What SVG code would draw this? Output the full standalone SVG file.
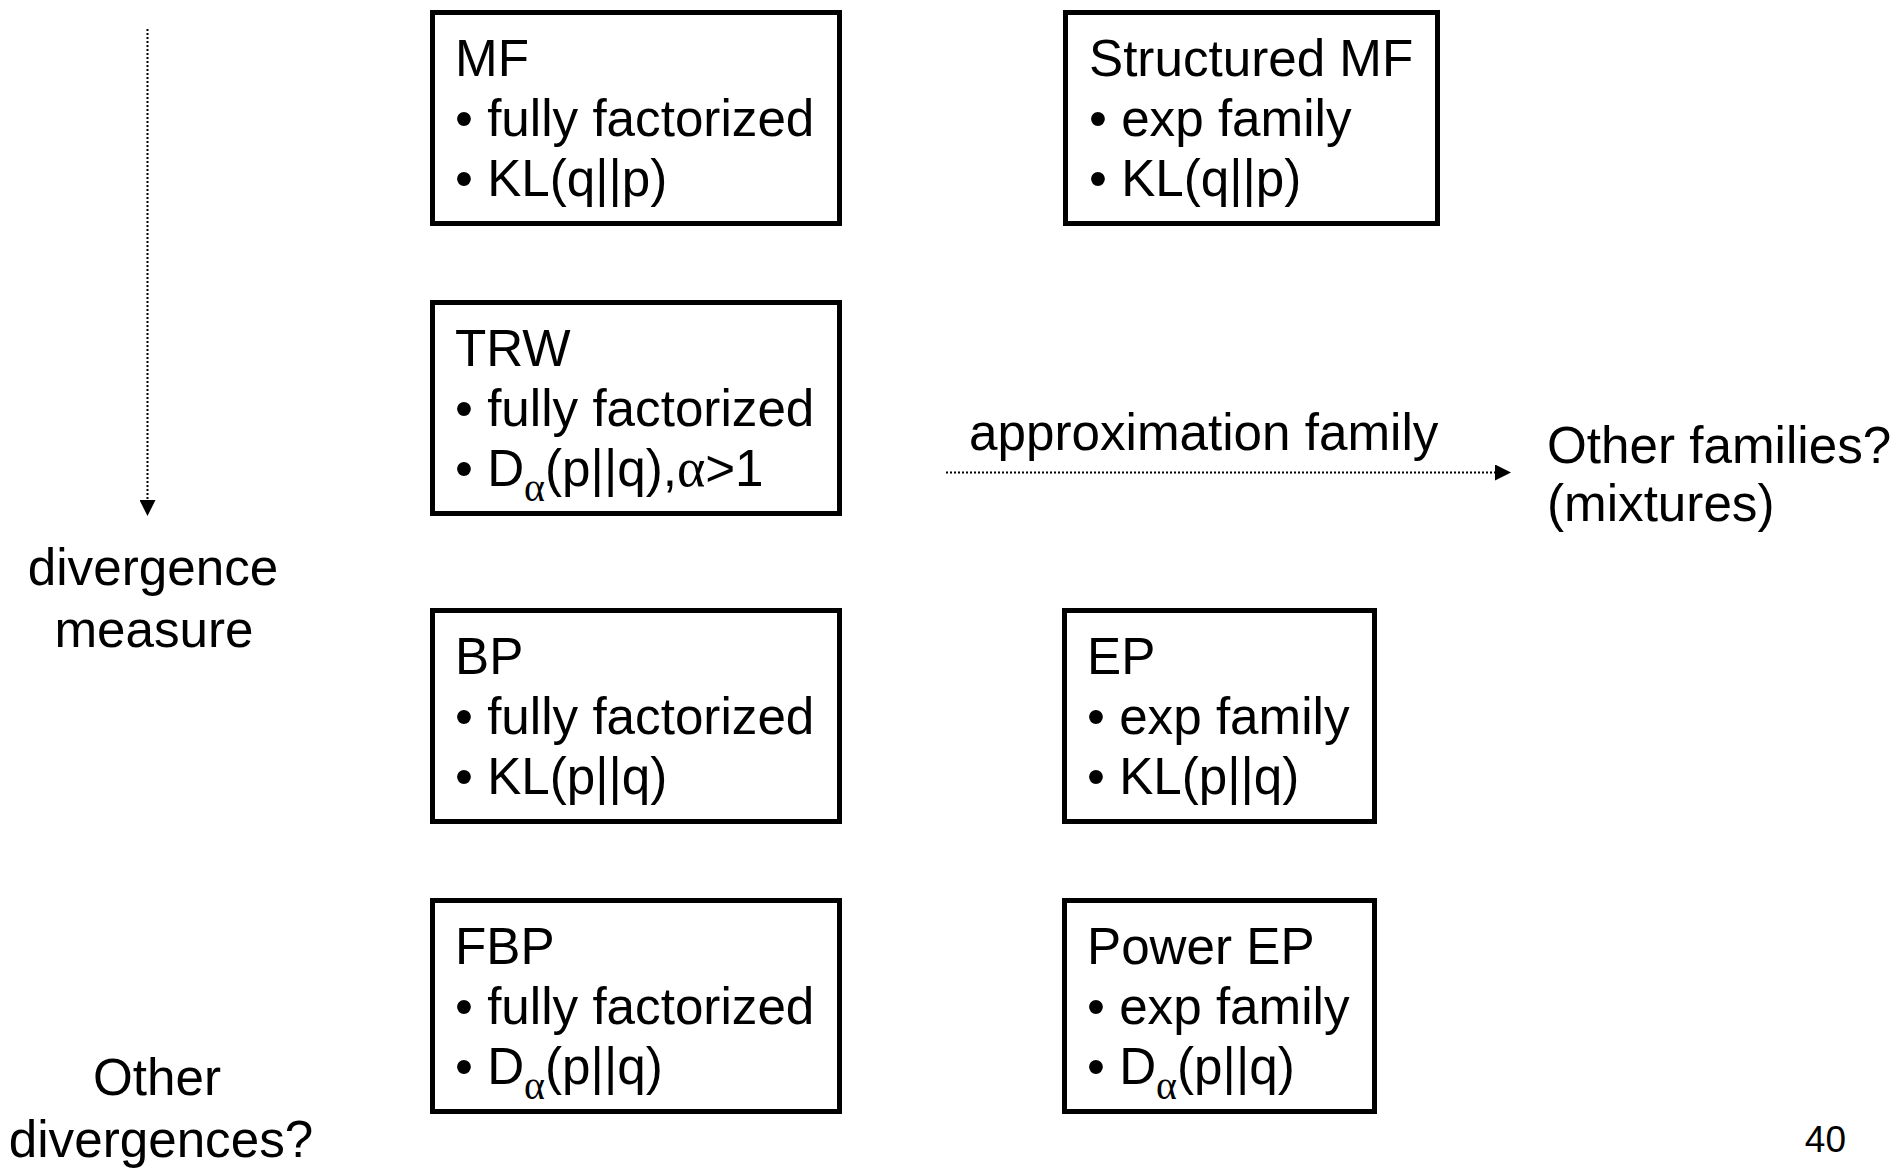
<svg xmlns="http://www.w3.org/2000/svg" width="1895" height="1168" viewBox="0 0 1895 1168">
  <style>
    text { font-family: "Liberation Sans", Arial, sans-serif; font-size: 51.2px; fill: #000; }
    .box { fill: #fff; stroke: #000; stroke-width: 5; }
    .sub { font-family: "Liberation Serif", "Times New Roman", serif; font-size: 40px; }
    .greek { font-family: "Liberation Serif", "Times New Roman", serif; font-size: 54px; }
    .dots { fill: none; stroke: #000; stroke-width: 2; stroke-dasharray: 2 2; }
    .page { font-size: 37px; }
  </style>
  <defs>
    <marker id="head" viewBox="0 0 16 16" refX="0" refY="8" markerWidth="16" markerHeight="16" markerUnits="userSpaceOnUse" orient="auto">
      <path d="M0,0 L16,8 L0,16 Z" fill="#000"/>
    </marker>
  </defs>

  <rect width="1895" height="1168" fill="#fff"/>

  <!-- axis connectors -->
  <g id="connectors">
    <line class="dots" x1="147.5" y1="29" x2="147.5" y2="500" marker-end="url(#head)"/>
    <line class="dots" x1="946" y1="472.5" x2="1495" y2="472.5" marker-end="url(#head)"/>
  </g>

  <!-- axis labels -->
  <g id="axis-labels">
    <text x="153" y="585" text-anchor="middle">divergence</text>
    <text x="154" y="647" text-anchor="middle">measure</text>
    <text x="157" y="1095" text-anchor="middle">Other</text>
    <text x="161" y="1157" text-anchor="middle">divergences?</text>
    <text x="969" y="450">approximation family</text>
    <text x="1547" y="463">Other families?</text>
    <text x="1547" y="521">(mixtures)</text>
  </g>

  <g id="mf">
    <rect class="box" x="432.5" y="12.5" width="407" height="211"/>
    <text x="455" y="76">MF</text>
    <text x="455" y="136">• fully factorized</text>
    <text x="455" y="196">• KL(q||p)</text>
  </g>

  <g id="structured-mf">
    <rect class="box" x="1065.5" y="12.5" width="372" height="211"/>
    <text x="1089" y="76">Structured MF</text>
    <text x="1089" y="136">• exp family</text>
    <text x="1089" y="196">• KL(q||p)</text>
  </g>

  <g id="trw">
    <rect class="box" x="432.5" y="302.5" width="407" height="211"/>
    <text x="455" y="366">TRW</text>
    <text x="455" y="426">• fully factorized</text>
    <text x="455" y="486">• D<tspan class="sub" dy="15">α</tspan><tspan dy="-15">(p||q),</tspan><tspan class="greek">α</tspan>&gt;1</text>
  </g>

  <g id="bp">
    <rect class="box" x="432.5" y="610.5" width="407" height="211"/>
    <text x="455" y="674">BP</text>
    <text x="455" y="734">• fully factorized</text>
    <text x="455" y="794">• KL(p||q)</text>
  </g>

  <g id="ep">
    <rect class="box" x="1064.5" y="610.5" width="310" height="211"/>
    <text x="1087" y="674">EP</text>
    <text x="1087" y="734">• exp family</text>
    <text x="1087" y="794">• KL(p||q)</text>
  </g>

  <g id="fbp">
    <rect class="box" x="432.5" y="900.5" width="407" height="211"/>
    <text x="455" y="964">FBP</text>
    <text x="455" y="1024">• fully factorized</text>
    <text x="455" y="1084">• D<tspan class="sub" dy="15">α</tspan><tspan dy="-15">(p||q)</tspan></text>
  </g>

  <g id="power-ep">
    <rect class="box" x="1064.5" y="900.5" width="310" height="211"/>
    <text x="1087" y="964">Power EP</text>
    <text x="1087" y="1024">• exp family</text>
    <text x="1087" y="1084">• D<tspan class="sub" dy="15">α</tspan><tspan dy="-15">(p||q)</tspan></text>
  </g>

  <text class="page" x="1846" y="1152" text-anchor="end">40</text>
</svg>
